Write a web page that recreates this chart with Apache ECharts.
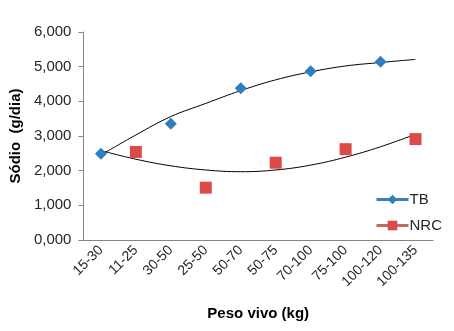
<!DOCTYPE html>
<html><head><meta charset="utf-8">
<script src="https://cdn.jsdelivr.net/npm/echarts@6/dist/echarts.min.js"></script>
<style>html,body{margin:0;padding:0;background:#fff}#c{width:454px;height:331px}</style>
</head><body><div id="c"></div>
<script>
const categories = ['15-30','11-25','30-50','25-50','50-70','50-75','70-100','75-100','100-120','100-135'];
const tbValues  = [2.49, null, 3.35, null, 4.38, null, 4.87, null, 5.14, null];
const nrcValues = [null, 2.54, null, 1.51, null, 2.23, null, 2.62, null, 2.91];
const tbTrend   = [2.45, 3.03, 3.56, 3.94, 4.31, 4.62, 4.85, 5.02, 5.12, 5.21];
const nrcTrend  = [2.58, 2.33, 2.14, 2.02, 1.97, 2.02, 2.16, 2.39, 2.69, 3.05];
const yTicks = { min: 0, max: 6, interval: 1 };

const font = 'Liberation Sans, Arial, sans-serif';
const chart = echarts.init(document.getElementById('c'));
chart.setOption({
  animation: false,
  grid: { left: 83, right: 21, top: 32, bottom: 91, containLabel: false },
  legend: {
    orient: 'vertical', left: 370, top: 187, itemGap: 11,
    itemWidth: 32, itemHeight: 12,
    textStyle: { fontFamily: font, fontSize: 15, color: '#262626', padding: [0,0,0,-4] },
    data: [
      { name: 'TB', lineStyle: { width: 3, color: '#3B7EC0', opacity: 1 } },
      { name: 'NRC', lineStyle: { width: 3, color: '#BE6A63', opacity: 1 } }
    ]
  },
  xAxis: {
    type: 'category', data: categories, boundaryGap: true,
    name: 'Peso vivo (kg)', nameLocation: 'middle', nameGap: 66,
    nameTextStyle: { fontFamily: font, fontSize: 15, fontWeight: 'bold', color: '#000' },
    axisLine: { lineStyle: { color: '#868686', width: 1 } },
    axisTick: { show: false },
    axisLabel: { rotate: 45, fontFamily: font, fontSize: 14, color: '#262626', margin: 8, interval: 0 }
  },
  yAxis: {
    type: 'value', min: yTicks.min, max: yTicks.max, interval: yTicks.interval,
    name: 'Sódio  (g/dia)', nameLocation: 'middle', nameGap: 54, nameRotate: 90,
    nameTextStyle: { fontFamily: font, fontSize: 15, fontWeight: 'bold', color: '#000' },
    axisLine: { show: true, lineStyle: { color: '#868686', width: 1 } },
    axisTick: { show: true, length: 5, lineStyle: { color: '#868686' } },
    splitLine: { show: false },
    axisLabel: { fontFamily: font, fontSize: 15, color: '#262626', margin: 12,
      formatter: v => v.toFixed(3).replace('.', ',') }
  },
  series: [
    { name: 'TB trend', type: 'line', data: tbTrend, smooth: 0.4, showSymbol: false, silent: true,
      lineStyle: { color: '#000', width: 1 }, z: 1 },
    { name: 'NRC trend', type: 'line', data: nrcTrend, smooth: 0.4, showSymbol: false, silent: true,
      lineStyle: { color: '#000', width: 1 }, z: 1 },
    { name: 'TB', type: 'line', data: tbValues, connectNulls: false, showAllSymbol: true,
      symbol: 'diamond', symbolSize: 12, itemStyle: { color: '#2F7EBF' },
      lineStyle: { opacity: 0 }, z: 3 },
    { name: 'NRC', type: 'line', data: nrcValues, connectNulls: false, showAllSymbol: true,
      symbol: 'rect', symbolSize: 12, itemStyle: { color: '#DB4B4B' },
      lineStyle: { opacity: 0 }, z: 3 }
  ]
});
</script></body></html>
